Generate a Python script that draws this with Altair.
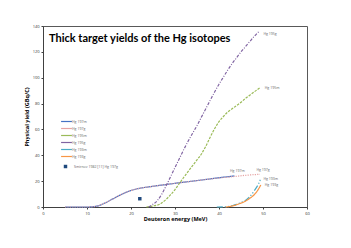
import altair as alt
import pandas as pd

# ---- data ----
e_197m = [5, 10, 12, 14, 16, 18, 20, 22, 24.3, 28, 31.1, 34, 37, 40.2, 43.5]
y_197m = [0, 0, 0.5, 3, 6.5, 10, 12.8, 14.5, 15.7, 17.4, 18.8, 20, 21.3, 22.7, 24]

e_197g = [5, 10, 12, 14, 16, 18, 20, 22, 24.3, 28, 31.1, 34, 37, 40.2, 43.5, 46, 49.3]
y_197g = [0, 0, 0.5, 3, 6.5, 10, 12.8, 14.5, 15.7, 17.4, 18.8, 20, 21.3, 22.5, 23.6, 24.5, 25.3]

e_195m = [23.5, 25, 26.6, 28, 29, 30, 31.1, 32, 33, 34, 35, 36, 37, 38, 39, 40, 41, 42, 43, 44, 45, 46, 47, 48, 49.3]
y_195m = [0, 0.8, 2.3, 6, 9.5, 13.5, 18.8, 23, 27.5, 32, 36.5, 41, 47, 54, 60.5, 66, 70, 73.5, 76, 78.5, 81, 84, 86.5, 89, 92.3]

e_195g = [24, 24.7, 26, 27, 28, 29, 30, 31, 32, 33, 34, 35, 36, 37, 38, 39, 40, 41, 42, 43, 44, 45, 46, 47, 48, 49]
y_195g = [0, 1.5, 5, 10, 16.5, 23.5, 30.5, 37.5, 44.5, 51, 57, 63, 69.5, 76, 82.5, 89, 95, 100.5, 106, 111, 115.5, 120, 124, 128, 132, 135.5]

e_193m = [39.5, 42, 43, 44, 45, 46, 47, 48, 49, 49.5]
y_193m = [0, 0.3, 1, 2, 3.5, 5, 8, 12.5, 18, 22]

e_193g = [41.5, 43, 44, 45, 46, 47, 48, 49, 49.5]
y_193g = [0, 0.8, 1.8, 3, 4.5, 6.7, 9.5, 14, 17]

smirnov_e = [22]
smirnov_y = [6.4]

series_names = ["Hg 197m", "Hg 197g", "Hg 195m", "Hg 195g", "Hg 193m", "Hg 193g"]
series_colors = ["#4472C4", "#E6A3A3", "#9BBB59", "#8064A2", "#4BACC6", "#F79646"]
series_dash = [[1, 0], [1.2, 1.2], [2.5, 1.2], [3, 1.5, 1, 1.5], [6, 2, 1.2, 2, 1.2, 2], [1, 0]]

end_label_text = ["Hg 197m", "Hg 197g", "Hg 195m", "Hg 195g", "Hg 193m", "Hg 193g"]
end_label_e = [42.5, 48.5, 50.4, 50.1, 50.1, 50.4]
end_label_y = [27.5, 29, 92, 134, 22, 17]

x_ticks = [0, 10, 20, 30, 40, 50, 60]
y_ticks = [0, 20, 40, 60, 80, 100, 120, 140]

point_name = "Smirnov 1982 [11] Hg 197g"

# ---- build table ----
rows = []
for name, es, ys in zip(series_names,
                        [e_197m, e_197g, e_195m, e_195g, e_193m, e_193g],
                        [y_197m, y_197g, y_195m, y_195g, y_193m, y_193g]):
    for i, (e, y) in enumerate(zip(es, ys)):
        rows.append({"series": name, "E": e, "Y": y, "order": i})
df = pd.DataFrame(rows)
df_pt = pd.DataFrame({"E": smirnov_e, "Y": smirnov_y, "name": [point_name]})
df_lab = pd.DataFrame({"E": end_label_e, "Y": end_label_y, "t": end_label_text})

FONT = "Open Sans"
xs = alt.Scale(domain=[0, 60], nice=False)
ys = alt.Scale(domain=[0, 140], nice=False)
x_axis = alt.Axis(title="Deuteron energy (MeV)", values=x_ticks, labelOverlap=False,
                  labelFlush=False, labelSeparation=0)
y_axis = alt.Axis(title="Physical yield (GBq/C)", values=y_ticks, labelOverlap=False,
                  labelFlush=False, labelSeparation=0)
X = alt.X("E:Q", scale=xs, axis=x_axis)
Y = alt.Y("Y:Q", scale=ys, axis=y_axis)

lines = alt.Chart(df).mark_line(strokeWidth=1.2, interpolate="monotone").encode(
    x=X, y=Y,
    color=alt.Color("series:N", scale=alt.Scale(domain=series_names, range=series_colors),
                    legend=alt.Legend(orient="none", legendX=17, legendY=91, title=None,
                                      symbolType="M-1.4,0L1.4,0", symbolSize=60,
                                      symbolStrokeWidth=1.2, symbolFillColor="transparent",
                                      labelFontSize=3.5, labelFont=FONT, labelColor="#666666",
                                      rowPadding=0, labelOffset=1, symbolOffset=2)),
    strokeDash=alt.StrokeDash("series:N", scale=alt.Scale(domain=series_names, range=series_dash), legend=None),
    order="order:Q",
)

pt = alt.Chart(df_pt).mark_point(shape="square", filled=True, size=12, opacity=1).encode(
    x=X, y=Y,
    shape=alt.Shape("name:N", scale=alt.Scale(domain=[point_name], range=["square"]),
                    legend=alt.Legend(orient="none", legendX=20, legendY=138, title=None,
                                      symbolFillColor="#1F497D", symbolStrokeColor="#1F497D",
                                      symbolSize=12, labelFontSize=3.5, labelFont=FONT,
                                      labelColor="#666666", labelOffset=6)),
    color=alt.value("#1F497D"),
)

labels = alt.Chart(df_lab).mark_text(align="left", baseline="middle", fontSize=3.5, font=FONT,
                                     color="#666666").encode(
    x=X, y=Y, text="t:N")

chart = alt.layer(lines, pt, labels).resolve_legend(color="independent", shape="independent").properties(
    width=264, height=181,
    autosize=alt.AutoSizeParams(type="none"),
    padding={"left": 35, "top": 18, "right": 36, "bottom": 33},
    title=alt.TitleParams("Thick target yields of the Hg isotopes", anchor="start", frame="group",
                          dx=6, dy=31, offset=0, font="Lato", fontSize=11, fontWeight="bold",
                          color="#000000", baseline="bottom"),
).configure_axis(
    grid=False, domainColor="#404040", tickColor="#404040", tickSize=2,
    labelFontSize=4, labelFont=FONT, labelColor="#333333", labelPadding=2,
    labelOverlap=False,
    titleFontSize=5.5, titleFont=FONT, titleFontWeight="bold", titleColor="#000000",
).configure_axisY(titlePadding=3, labelOverlap=False).configure_axisX(titlePadding=1).configure_view(
    stroke="#595959", strokeWidth=1
)

chart.save("out.html", embed_options={"renderer": "svg", "actions": False})
